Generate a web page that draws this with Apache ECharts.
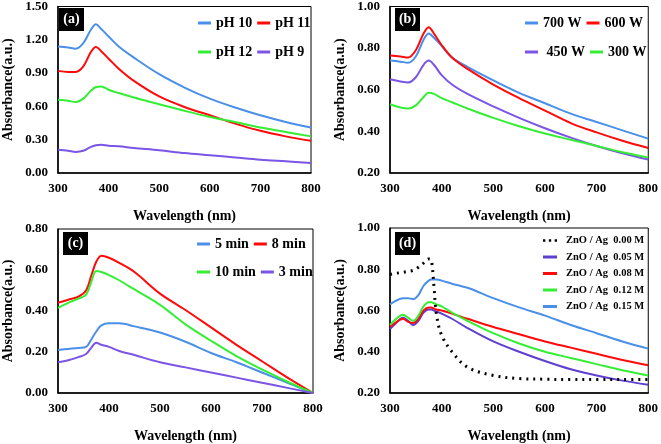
<!DOCTYPE html>
<html>
<head>
<meta charset="utf-8">
<script src="https://cdn.jsdelivr.net/npm/echarts@6/dist/echarts.min.js"></script>
<style>html,body{margin:0;padding:0;background:#fff}#c{width:661px;height:444px}</style>
</head>
<body>
<div id="c"></div>
<script>
// ---- data ----
const wlA = [300, 320, 335, 350, 365, 375, 385, 400, 420, 450, 500, 550, 600, 650, 700, 750, 800];
const pH10 = [1.14, 1.13, 1.12, 1.17, 1.29, 1.34, 1.30, 1.23, 1.14, 1.04, 0.89, 0.77, 0.67, 0.59, 0.52, 0.46, 0.41];
const pH11 = [0.92, 0.91, 0.91, 0.96, 1.09, 1.135, 1.10, 1.03, 0.94, 0.83, 0.69, 0.595, 0.52, 0.445, 0.38, 0.33, 0.29];
const pH12 = [0.66, 0.65, 0.64, 0.67, 0.74, 0.775, 0.78, 0.75, 0.72, 0.68, 0.62, 0.56, 0.505, 0.46, 0.41, 0.37, 0.33];
const pH9 = [0.21, 0.20, 0.19, 0.20, 0.235, 0.25, 0.255, 0.245, 0.24, 0.225, 0.205, 0.18, 0.16, 0.14, 0.12, 0.105, 0.09];

const wlB = [300, 320, 335, 350, 365, 375, 385, 400, 420, 450, 500, 550, 600, 650, 700, 750, 800];
const w700 = [0.74, 0.735, 0.73, 0.76, 0.84, 0.87, 0.85, 0.81, 0.755, 0.71, 0.645, 0.585, 0.535, 0.485, 0.445, 0.405, 0.365];
const w600 = [0.765, 0.76, 0.755, 0.79, 0.87, 0.90, 0.87, 0.815, 0.755, 0.70, 0.625, 0.56, 0.50, 0.44, 0.395, 0.355, 0.32];
const w450 = [0.65, 0.64, 0.635, 0.66, 0.72, 0.74, 0.72, 0.67, 0.625, 0.58, 0.52, 0.465, 0.415, 0.37, 0.33, 0.295, 0.265];
const w300 = [0.53, 0.515, 0.51, 0.525, 0.565, 0.585, 0.58, 0.56, 0.54, 0.51, 0.465, 0.425, 0.39, 0.36, 0.33, 0.30, 0.275];

const wlC = [300, 320, 340, 355, 365, 375, 385, 400, 420, 450, 500, 550, 600, 650, 700, 750, 800];
const m8 = [0.44, 0.455, 0.47, 0.50, 0.57, 0.64, 0.67, 0.66, 0.635, 0.59, 0.485, 0.405, 0.32, 0.235, 0.155, 0.075, 0.0];
const m10 = [0.415, 0.44, 0.46, 0.48, 0.54, 0.595, 0.59, 0.575, 0.55, 0.505, 0.43, 0.335, 0.255, 0.18, 0.115, 0.055, 0.0];
const m5 = [0.21, 0.215, 0.22, 0.225, 0.26, 0.30, 0.33, 0.34, 0.34, 0.325, 0.295, 0.25, 0.195, 0.15, 0.10, 0.05, 0.0];
const m3 = [0.15, 0.16, 0.175, 0.19, 0.22, 0.245, 0.235, 0.225, 0.205, 0.185, 0.15, 0.125, 0.10, 0.075, 0.05, 0.025, 0.0];

const wlD = [300, 310, 325, 335, 345, 355, 365, 375, 380, 385, 390, 400, 420, 450, 500, 550, 600, 650, 700, 750, 800];
const c000 = [0.775, 0.78, 0.785, 0.79, 0.795, 0.81, 0.83, 0.85, 0.845, 0.72, 0.58, 0.48, 0.40, 0.325, 0.285, 0.27, 0.267, 0.265, 0.265, 0.265, 0.265];
const c005 = [0.51, 0.535, 0.565, 0.55, 0.53, 0.55, 0.59, 0.605, 0.605, 0.60, 0.595, 0.585, 0.56, 0.515, 0.45, 0.40, 0.355, 0.315, 0.285, 0.26, 0.24];
const c008 = [0.52, 0.54, 0.56, 0.545, 0.54, 0.56, 0.60, 0.615, 0.615, 0.61, 0.605, 0.60, 0.585, 0.56, 0.52, 0.485, 0.45, 0.42, 0.39, 0.36, 0.335];
const c012 = [0.53, 0.555, 0.58, 0.565, 0.55, 0.575, 0.62, 0.64, 0.64, 0.635, 0.63, 0.62, 0.59, 0.55, 0.49, 0.44, 0.40, 0.37, 0.34, 0.31, 0.285];
const c015 = [0.63, 0.645, 0.66, 0.66, 0.655, 0.675, 0.72, 0.745, 0.75, 0.75, 0.75, 0.745, 0.73, 0.71, 0.66, 0.615, 0.575, 0.53, 0.49, 0.45, 0.415];

const panelLabels = ['(a)', '(b)', '(c)', '(d)'];
const xTitle = 'Wavelength (nm)';
const yTitle = 'Absorbance(a.u.)';

// ---- styling ----
const FONT = 'Liberation Serif';
const BLUE = '#4a90e8', RED = '#ff0a0a', GREEN = '#33ee33', PURPLE = '#7a55e6', DPURPLE = '#5e3fd0';
const grids = [
  {left: 53, top: 6, width: 258, height: 167},
  {left: 390, top: 6, width: 260, height: 167},
  {left: 58, top: 229, width: 255, height: 169},
  {left: 390, top: 228, width: 260, height: 171}
];
const yRanges = [[0, 1.5, 0.3], [0.2, 1.0, 0.2], [0, 0.8, 0.2], [0.2, 1.0, 0.2]];

const pair = (xs, ys) => xs.map((x, i) => [x, ys[i]]);
const ser = (name, gi, xs, ys, color, dotted) => ({
  name, type: 'line', xAxisIndex: gi, yAxisIndex: gi,
  data: pair(xs, ys), showSymbol: false, smooth: 0.35, color,
  lineStyle: dotted ? {color, width: 3, type: [2, 5]} : {color, width: 2},
  z: dotted ? 5 : 3
});

const series = [
  ser('pH 10', 0, wlA, pH10, BLUE), ser('pH 11', 0, wlA, pH11, RED),
  ser('pH 12', 0, wlA, pH12, GREEN), ser('pH 9', 0, wlA, pH9, PURPLE),
  ser('700 W', 1, wlB, w700, BLUE), ser('600 W', 1, wlB, w600, RED),
  ser(' 450 W', 1, wlB, w450, PURPLE), ser('300 W', 1, wlB, w300, GREEN),
  ser('5 min', 2, wlC, m5, BLUE), ser('8 min', 2, wlC, m8, RED),
  ser('10 min', 2, wlC, m10, GREEN), ser('3 min', 2, wlC, m3, PURPLE),
  ser('ZnO / Ag  0.00 M', 3, wlD, c000, '#000', true),
  ser('ZnO / Ag  0.05 M', 3, wlD, c005, DPURPLE),
  ser('ZnO / Ag  0.08 M', 3, wlD, c008, RED),
  ser('ZnO / Ag  0.12 M', 3, wlD, c012, GREEN),
  ser('ZnO / Ag  0.15 M', 3, wlD, c015, BLUE)
];

const txt = (size) => ({color: '#000', fontFamily: FONT, fontWeight: 'bold', fontSize: size});

const xAxes = grids.map((g, i) => ({
  gridIndex: i, type: 'value', min: 300, max: 800, interval: 100,
  axisLine: {show: true, onZero: false, lineStyle: {color: '#000', width: 1.5}},
  axisTick: {show: false}, splitLine: {show: false},
  axisLabel: Object.assign(txt(13), {margin: 9}),
  name: xTitle, nameLocation: 'middle', nameGap: 36, nameTextStyle: txt(14)
}));
const yAxes = grids.map((g, i) => ({
  gridIndex: i, type: 'value', min: yRanges[i][0], max: yRanges[i][1], interval: yRanges[i][2],
  axisLine: {show: true, onZero: false, lineStyle: {color: '#000', width: 1.5}},
  axisTick: {show: false}, splitLine: {show: false},
  axisLabel: Object.assign(txt(13), {margin: 10, formatter: v => v.toFixed(2)}),
  name: yTitle, nameLocation: 'middle', nameGap: 43, nameTextStyle: txt(14)
}));

const leg = (data, left, top, extra) => Object.assign({
  data, left, top, orient: 'horizontal', icon: 'rect', itemWidth: 13, itemHeight: 3,
  itemGap: 5, textStyle: txt(14), selectedMode: false, padding: 0
}, extra || {});

const dotIcon = 'path://M0,0h2v2h-2z M5,0h2v2h-2z M10,0h2v2h-2z';
const legends = [
  leg(['pH 10', 'pH 11'], 198, 16), leg(['pH 12', 'pH 9'], 198, 45),
  leg(['700 W', '600 W'], 525, 16), leg([' 450 W', '300 W'], 525, 45),
  leg(['5 min', '8 min'], 197, 237), leg(['10 min', '3 min'], 197, 265),
  {
    data: [{name: 'ZnO / Ag  0.00 M', icon: dotIcon, itemStyle: {color: '#000'}},
           'ZnO / Ag  0.05 M', 'ZnO / Ag  0.08 M', 'ZnO / Ag  0.12 M', 'ZnO / Ag  0.15 M'],
    left: 543, top: 235, orient: 'vertical', icon: 'rect', itemWidth: 14, itemHeight: 3,
    itemGap: 5.5, textStyle: Object.assign(txt(10.5), {padding: [0, 0, 0, 4]}), selectedMode: false, padding: 0
  }
];

const labelPos = [[59, 8], [395, 8], [63, 232], [395, 232]];
const graphics = labelPos.map((p, i) => ({
  type: 'group', left: p[0], top: p[1],
  children: [
    {type: 'rect', shape: {x: 0, y: 0, width: 25, height: 23}, style: {fill: '#000'}},
    {type: 'text', x: 12.5, y: 11.5, style: {text: panelLabels[i], fill: '#fff', font: 'bold 14px "Liberation Serif"', align: 'center', verticalAlign: 'middle'}}
  ]
}));

const chart = echarts.init(document.getElementById('c'), null, {renderer: 'canvas'});
chart.setOption({
  animation: false,
  backgroundColor: '#fff',
  grid: grids.map(g => Object.assign({show: true, borderColor: '#000', borderWidth: 1, containLabel: false}, g)),
  xAxis: xAxes, yAxis: yAxes,
  legend: legends,
  graphic: graphics,
  series
});
</script>
</body>
</html>
